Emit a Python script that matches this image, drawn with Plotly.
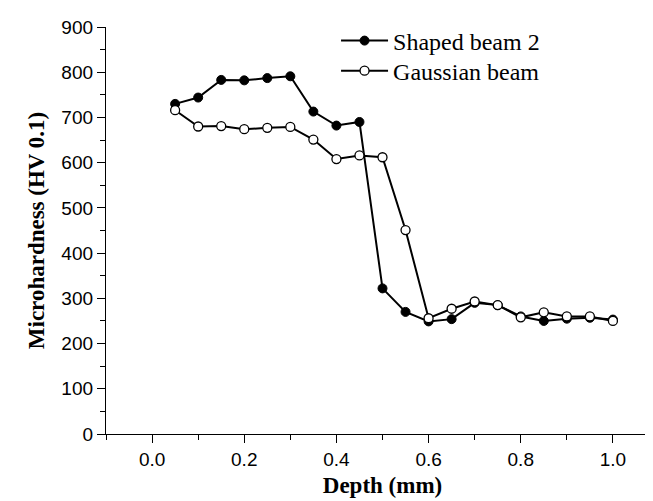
import plotly.graph_objects as go

depth = [0.05, 0.10, 0.15, 0.20, 0.25, 0.30, 0.35, 0.40, 0.45, 0.50,
         0.55, 0.60, 0.65, 0.70, 0.75, 0.80, 0.85, 0.90, 0.95, 1.00]
shaped_beam_2 = [730, 744, 783, 782, 787, 791, 713, 682, 690, 322,
                 270, 249, 254, 290, 285, 260, 250, 255, 257, 253]
gaussian_beam = [716, 680, 681, 674, 677, 679, 651, 608, 616, 612,
                 451, 256, 277, 293, 285, 258, 269, 260, 260, 250]

x_ticks = [0.0, 0.2, 0.4, 0.6, 0.8, 1.0]
x_tick_labels = ["0.0", "0.2", "0.4", "0.6", "0.8", "1.0"]
y_ticks = [0, 100, 200, 300, 400, 500, 600, 700, 800, 900]

fig = go.Figure()
fig.add_trace(go.Scatter(
    x=depth, y=shaped_beam_2, name="Shaped beam 2", mode="lines+markers",
    line=dict(color="black", width=2),
    marker=dict(symbol="circle", size=9, color="black", line=dict(color="black", width=1)),
    legend="legend",
))
fig.add_trace(go.Scatter(
    x=depth, y=gaussian_beam, name="Gaussian beam", mode="lines+markers",
    line=dict(color="black", width=2),
    marker=dict(symbol="circle", size=9, color="white", line=dict(color="black", width=1.3)),
    legend="legend2",
))

axis_common = dict(
    showline=True, linecolor="black", linewidth=1.3, mirror=False,
    showgrid=False, zeroline=False, ticks="outside", ticklen=8, tickwidth=1.3,
    tickcolor="black", tickfont=dict(family="Liberation Sans, Arial", size=19, color="black"),
)

fig.update_xaxes(
    range=[-0.1, 1.1], tickvals=x_ticks, ticktext=x_tick_labels,
    minor=dict(ticks="outside", dtick=0.1, tick0=0, ticklen=5, tickwidth=1.3, tickcolor="black"),
    title=dict(text="<b>Depth (mm)</b>", font=dict(family="Liberation Serif, Times New Roman", size=23, color="black"), standoff=7),
    **axis_common,
)
fig.update_yaxes(
    range=[0, 900], tickvals=y_ticks,
    minor=dict(ticks="outside", dtick=50, tick0=0, ticklen=5, tickwidth=1.3, tickcolor="black"),
    title=dict(text="<b>Microhardness (HV 0.1)</b>", font=dict(family="Liberation Serif, Times New Roman", size=23, color="black"), standoff=10),
    **axis_common,
)

legend_font = dict(family="Liberation Serif, Times New Roman", size=24, color="black")
fig.update_layout(
    width=653, height=501,
    margin=dict(l=98, r=2, t=19, b=75, pad=0),
    paper_bgcolor="white", plot_bgcolor="white",
    showlegend=True,
    legend=dict(x=0.416, y=0.9656, xanchor="left", yanchor="middle",
                bgcolor="rgba(0,0,0,0)", borderwidth=0, font=legend_font, itemwidth=47),
    legend2=dict(x=0.416, y=0.8918, xanchor="left", yanchor="middle",
                 bgcolor="rgba(0,0,0,0)", borderwidth=0, font=legend_font, itemwidth=47),
)

fig.write_html("out.html")
